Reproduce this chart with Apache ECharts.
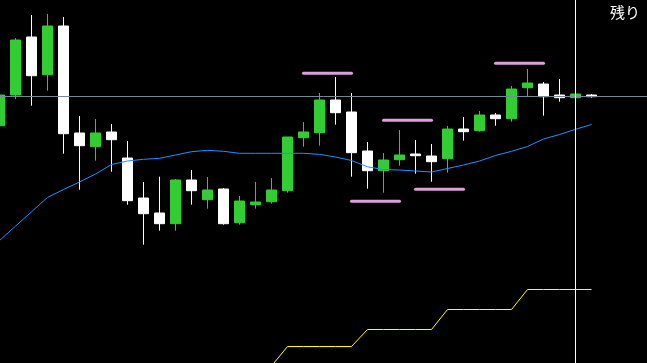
<!DOCTYPE html>
<html>
<head>
<meta charset="utf-8">
<script src="https://cdn.jsdelivr.net/npm/echarts@6/dist/echarts.min.js"></script>
<style>
html,body{margin:0;padding:0;background:#000;}
#chart{width:647px;height:363px;}
</style>
</head>
<body>
<div id="chart"></div>
<script>
// Categories (bars); last three are empty space on the right
const categories = Array.from({length: 41}, (_, i) => String(i + 1));

// Candles: [open, close, low, high]
const candles = [
  [237.3, 268, 233, 273],
  [268, 323, 264, 325],
  [326, 287.3, 257.3, 348],
  [288.3, 337, 272.3, 349],
  [337, 229.3, 209.3, 346],
  [230, 217.3, 173.3, 247],
  [216.3, 230, 202.3, 244],
  [231, 223.3, 191.3, 239],
  [205, 162.3, 158.3, 222],
  [165, 149.3, 118.3, 181],
  [150, 139.3, 132.3, 186.3],
  [139.3, 183, 132.3, 184],
  [183, 172.3, 158.3, 193],
  [163.3, 173, 154.3, 186],
  [174, 139.3, 138.3, 175],
  [140.3, 162, 138.3, 167],
  [158.3, 161, 154.3, 181],
  [161.3, 173, 159.3, 185],
  [172.3, 226, 170.3, 226],
  [225.3, 231, 216.3, 241],
  [230.3, 263, 217.3, 270],
  [263, 250.3, 238.3, 286],
  [251, 210.3, 186.3, 270],
  [212, 192.3, 174.3, 221],
  [192.3, 203, 170.3, 210],
  [203.3, 208, 197.3, 233],
  [209, 207.3, 189.3, 223],
  [207, 201.3, 181.3, 219],
  [204.3, 234, 190.3, 237],
  [234, 231.3, 222.3, 246],
  [232.3, 248, 231.3, 252],
  [248, 244.3, 237.3, 250],
  [244.3, 274, 241.3, 277],
  [275.3, 280, 267, 294],
  [279, 266.3, 247.3, 281],
  [268, 265.3, 261.3, 284],
  [265.3, 269, 265.3, 269],
  [268, 266.3, 265.3, 269]
];

// Moving average (blue)
const maValues = [
  122.5, 136.9, 151.2, 165.6, 173.5, 181, 189, 198.5, 202, 203.7,
  204.7, 208, 211.3, 212.7, 211.7, 209.7, 209.7, 209.7, 209.7, 209.7,
  208.7, 206, 202.5, 196.2, 193.5, 193, 192, 191, 194.5, 198,
  202, 207.5, 211.7, 216.5, 224, 228.5, 233.7, 238.5
];

// Step line (yellow); '-' = below visible range / no value
const stepValues = [
  '-', '-', '-', '-', '-', '-', '-', '-', '-', '-',
  '-', '-', '-', '-', '-', '-', '-', -3, 16.5, 16.5,
  16.5, 16.5, 16.5, 33.5, 33.5, 33.5, 33.5, 33.5, 53.5, 53.5,
  53.5, 53.5, 53.5, 73.5, 73.5, 73.5, 73.5, 73.5
];

// Pink level segments: start index, end index, level
const segStarts = [19, 24, 22, 26, 31];
const segEnds   = [22, 27, 25, 29, 34];
const segLevels = [289.7, 242.7, 161.7, 173.7, 299.7];

// Horizontal price line and vertical cursor
const priceLine = 266.5;
const cursorIndex = 36;
const cornerLabel = '残り';

const chart = echarts.init(document.getElementById('chart'), null, {renderer: 'canvas'});

const segSeries = segStarts.map((s, k) => {
  const d = categories.map(() => '-');
  d[s] = segLevels[k];
  d[segEnds[k]] = segLevels[k];
  return {
    type: 'line',
    data: d,
    showSymbol: false,
    connectNulls: true,
    silent: true,
    lineStyle: {color: '#dda0dd', width: 3, cap: 'round'},
    z: 3
  };
});

chart.setOption({
  animation: false,
  backgroundColor: '#000000',
  grid: {left: -8.5, top: 0, width: 656, height: 363, containLabel: false, outerBoundsMode: 'none'},
  xAxis: {
    type: 'category',
    data: categories,
    boundaryGap: true,
    axisLine: {show: false}, axisTick: {show: false}, axisLabel: {show: false},
    splitLine: {show: false}
  },
  yAxis: {
    type: 'value',
    min: 0, max: 363,
    axisLine: {show: false}, axisTick: {show: false}, axisLabel: {show: false},
    splitLine: {show: false}
  },
  graphic: [{
    type: 'text',
    left: 610, top: 5,
    style: {text: cornerLabel, fill: '#ffffff', font: '15px "Noto Sans CJK JP"'}
  }],
  series: [
    {
      type: 'candlestick',
      data: candles,
      barWidth: 10,
      itemStyle: {
        color: '#32cd32', color0: '#ffffff',
        borderColor: '#32cd32', borderColor0: '#ffffff',
        borderWidth: 1
      },
      markLine: {
        silent: true,
        symbol: ['none', 'none'],
        label: {show: false},
        data: [
          {yAxis: priceLine, lineStyle: {color: '#778899', width: 1, type: 'solid'}},
          {xAxis: cursorIndex, lineStyle: {color: '#ffffff', width: 1, type: 'solid'}}
        ]
      },
      z: 2
    },
    {
      type: 'line',
      data: maValues,
      showSymbol: false,
      silent: true,
      lineStyle: {color: '#1e90ff', width: 1},
      z: 4
    },
    {
      type: 'line',
      data: stepValues,
      showSymbol: false,
      silent: true,
      clip: true,
      lineStyle: {color: '#ffff00', width: 1},
      z: 4
    },
    ...segSeries
  ]
});
</script>
</body>
</html>
